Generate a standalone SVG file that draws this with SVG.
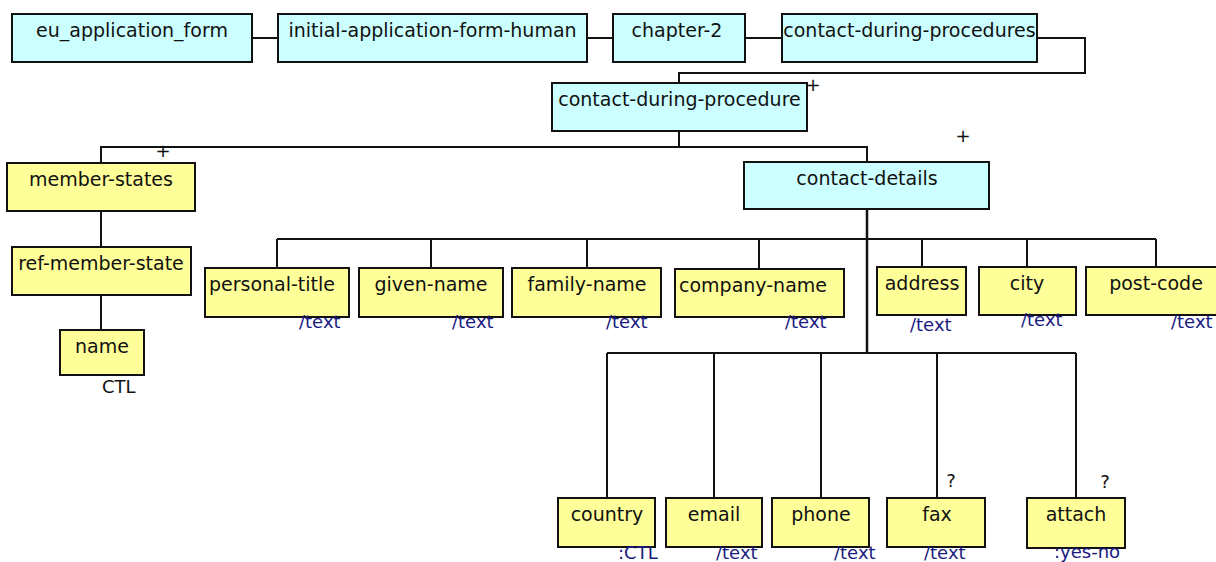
<svg xmlns="http://www.w3.org/2000/svg" width="1216" height="562" viewBox="0 0 1216 562">
<style>
  .c rect { fill: #ccffff; stroke: #111; stroke-width: 2; }
  .y rect { fill: #ffff99; stroke: #111; stroke-width: 2; }
  text { font-family: "DejaVu Sans", Verdana, sans-serif; font-size: 18px; fill: #111; }
  .lbl { text-anchor: middle; font-size: 19px; }
  .t { fill: #1a1a80; }
  .k { fill: #111; }
  #connectors path { fill: none; stroke: #111; stroke-width: 2; }
</style>
<rect width="1216" height="562" fill="#ffffff"/>
<g id="connectors">
  <path d="M252,38 H278"/>
  <path d="M587,38 H613"/>
  <path d="M745,38 H782"/>
  <path d="M1037,38 H1085 V73 H679 V83"/>
  <path d="M679,131 V147 H101 V163"/>
  <path d="M679,147 H867 V162"/>
  <path d="M101,211 V247"/>
  <path d="M101,295 V330"/>
  <path d="M867,209 V353" style="stroke-width:2.5"/>
  <path d="M277,239 H1156"/>
  <path d="M277,239 V268 M431,239 V268 M587,239 V268 M759,239 V269 M922,239 V267 M1027,239 V267 M1156,239 V267"/>
  <path d="M607,353 H1076"/>
  <path d="M607,353 V498 M714,353 V498 M821,353 V498 M937,353 V498 M1076,353 V498"/>
</g>
<g id="eu_application_form" class="c"><rect x="12" y="14" width="240" height="48"/><text class="lbl" x="132" y="37">eu_application_form</text></g>
<g id="initial-application-form-human" class="c"><rect x="278" y="14" width="309" height="48"/><text class="lbl" x="432.5" y="37">initial-application-form-human</text></g>
<g id="chapter-2" class="c"><rect x="613" y="14" width="132" height="48"/><text class="lbl" x="677" y="37">chapter-2</text></g>
<g id="contact-during-procedures" class="c"><rect x="782" y="14" width="255" height="48"/><text class="lbl" x="909.5" y="37">contact-during-procedures</text></g>
<g id="contact-during-procedure" class="c"><rect x="552" y="83" width="255" height="48"/><text class="lbl" x="679.5" y="106">contact-during-procedure</text><text class="k" x="813" y="91" text-anchor="middle">+</text></g>
<g id="contact-details" class="c"><rect x="744" y="162" width="245" height="47"/><text class="lbl" x="867" y="185">contact-details</text><text class="k" x="963" y="142" text-anchor="middle">+</text></g>
<g id="member-states" class="y"><rect x="7" y="163" width="188" height="48"/><text class="lbl" x="101" y="186">member-states</text><text class="k" x="163" y="157" text-anchor="middle">+</text></g>
<g id="ref-member-state" class="y"><rect x="12" y="247" width="179" height="48"/><text class="lbl" x="101" y="270">ref-member-state</text></g>
<g id="name" class="y"><rect x="60" y="330" width="84" height="45"/><text class="lbl" x="102" y="353">name</text><text class="k" x="102" y="393">CTL</text></g>
<g id="personal-title" class="y"><rect x="205" y="268" width="144" height="49"/><text class="lbl" x="272" y="291">personal-title</text><text class="t" x="299" y="328">/text</text></g>
<g id="given-name" class="y"><rect x="359" y="268" width="144" height="49"/><text class="lbl" x="431" y="291">given-name</text><text class="t" x="452" y="328">/text</text></g>
<g id="family-name" class="y"><rect x="512" y="268" width="149" height="49"/><text class="lbl" x="587" y="291">family-name</text><text class="t" x="606" y="328">/text</text></g>
<g id="company-name" class="y"><rect x="675" y="269" width="169" height="48"/><text class="lbl" x="753" y="292">company-name</text><text class="t" x="785" y="328">/text</text></g>
<g id="address" class="y"><rect x="877" y="267" width="89" height="48"/><text class="lbl" x="922" y="290">address</text><text class="t" x="910" y="331">/text</text></g>
<g id="city" class="y"><rect x="979" y="267" width="97" height="48"/><text class="lbl" x="1027" y="290">city</text><text class="t" x="1021" y="326">/text</text></g>
<g id="post-code" class="y"><rect x="1086" y="267" width="140" height="48"/><text class="lbl" x="1156" y="290">post-code</text><text class="t" x="1171" y="328">/text</text></g>
<g id="country" class="y"><rect x="558" y="498" width="97" height="49"/><text class="lbl" x="607" y="521">country</text><text class="t" x="618" y="559">:CTL</text></g>
<g id="email" class="y"><rect x="666" y="498" width="96" height="49"/><text class="lbl" x="714" y="521">email</text><text class="t" x="716" y="559">/text</text></g>
<g id="phone" class="y"><rect x="772" y="498" width="97" height="49"/><text class="lbl" x="821" y="521">phone</text><text class="t" x="834" y="559">/text</text></g>
<g id="fax" class="y"><rect x="887" y="498" width="98" height="49"/><text class="lbl" x="937" y="521">fax</text><text class="t" x="924" y="559">/text</text><text class="k" x="951" y="487" text-anchor="middle">?</text></g>
<g id="attach" class="y"><rect x="1027" y="498" width="98" height="50"/><text class="lbl" x="1076" y="521">attach</text><text class="t" x="1054" y="558">:yes-no</text><text class="k" x="1105" y="488" text-anchor="middle">?</text></g>
</svg>
